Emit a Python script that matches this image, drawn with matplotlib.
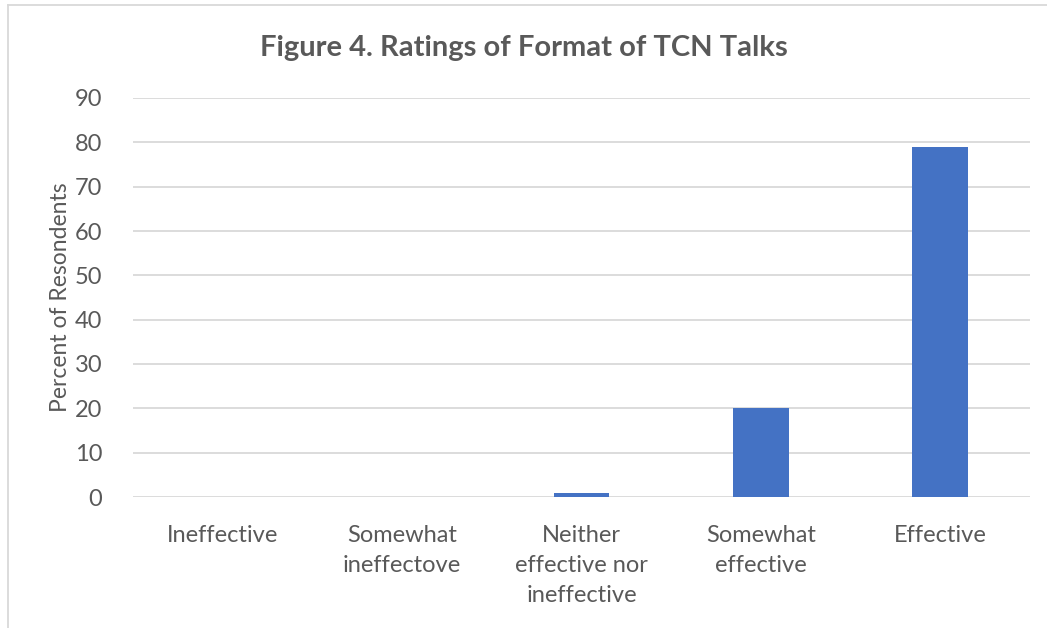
import matplotlib.pyplot as plt
from matplotlib.lines import Line2D

categories = ["Ineffective", "Somewhat\nineffectove", "Neither\neffective nor\nineffective",
              "Somewhat\neffective", "Effective"]
percents = [0, 0, 1, 20, 79]
yticks = list(range(0, 100, 10))

textGray = '#595959'
gridGray = '#d9d9d9'
barBlue = '#4472c4'

plt.rcParams['font.family'] = ['Lato', 'DejaVu Sans']

fig = plt.figure(figsize=(10.47, 6.28), dpi=100)
ax = fig.add_axes([133 / 1047, 1 - 497 / 628, (1030 - 133) / 1047, (497 - 98) / 628])

x = range(len(categories))
ax.bar(x, percents, width=0.31, color=barBlue, zorder=3)

ax.set_xlim(-0.5, len(categories) - 0.5)
ax.set_ylim(0, 90)
ax.set_yticks(yticks)
ax.set_xticks(list(x))
ax.set_xticklabels(categories, linespacing=1.55)
ax.grid(axis='y', color=gridGray, linewidth=1.3, zorder=0)
for s in ax.spines.values():
    s.set_visible(False)
ax.tick_params(axis='both', length=0, labelsize=17, labelcolor=textGray)
ax.tick_params(axis='x', pad=20)
ax.tick_params(axis='y', pad=22)
ax.set_ylabel("Percent of Resondents", fontsize=16.5, color=textGray, labelpad=3)

fig.text(0.5, 1 - 48 / 628, "Figure 4. Ratings of Format of TCN Talks", ha='center', va='center',
         fontsize=21, fontweight='bold', color=textGray)

# chart area border (top and left edges visible)
fig.add_artist(Line2D([8 / 1047, 1], [1 - 5 / 628, 1 - 5 / 628], color=gridGray, linewidth=1.3))
fig.add_artist(Line2D([8 / 1047, 8 / 1047], [0, 1 - 5 / 628], color=gridGray, linewidth=1.3))

fig.savefig('out.png', dpi=100)
